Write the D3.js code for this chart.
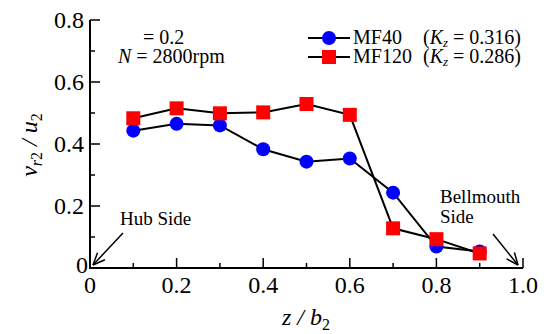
<!DOCTYPE html>
<html><head><meta charset="utf-8">
<script src="https://cdn.jsdelivr.net/npm/d3@7"></script>
<style>body{margin:0;background:#fff}svg{display:block}</style>
</head><body><svg id="c" width="547" height="334" font-family="'Liberation Serif', 'Times New Roman', Times, serif"></svg>
<script>
const zPos = [0.1,0.2,0.3,0.4,0.5,0.6,0.7,0.8,0.9];
const mf40 = [0.443,0.465,0.460,0.383,0.343,0.353,0.243,0.069,0.053];
const mf120 = [0.483,0.515,0.499,0.502,0.529,0.494,0.128,0.093,0.047];
const xTicks = [0,0.2,0.4,0.6,0.8,1.0];
const xTickLabels = ["0","0.2","0.4","0.6","0.8","1.0"];
const yTicks = [0,0.2,0.4,0.6,0.8];
const yTickLabels = ["0","0.2","0.4","0.6","0.8"];
const seriesNames = ["MF40","MF120"];
const kz = ["0.316","0.286"];

const FONT = "'Liberation Serif', 'Times New Roman', Times, serif";
const svg = d3.select("#c");
const x = d3.scaleLinear().domain([0,1]).range([90,523]);
const y = d3.scaleLinear().domain([0,0.8]).range([268,20]);

function txt(g){ return g.append("text").attr("font-family",FONT); }

// axes
const xAxis = svg.append("g").attr("transform","translate(0,268)");
xAxis.append("line").attr("x1",x(0)-1).attr("x2",x(1)).attr("y1",0).attr("y2",0).attr("stroke","#000").attr("stroke-width",2);
d3.range(0,1.0001,0.1).forEach(v=>{
  const major = Math.abs(v*5-Math.round(v*5))<1e-6;
  xAxis.append("line").attr("x1",x(v)).attr("x2",x(v)).attr("y1",0).attr("y2",major?-10:-5).attr("stroke","#000").attr("stroke-width",1.5);
});
xTicks.forEach((v,i)=>{
  txt(xAxis).attr("x",x(v)).attr("y",25).attr("text-anchor","middle").attr("font-size",24).text(xTickLabels[i]);
});
const yAxis = svg.append("g").attr("transform","translate(90,0)");
yAxis.append("line").attr("x1",0).attr("x2",0).attr("y1",y(0)+1).attr("y2",y(0.8)).attr("stroke","#000").attr("stroke-width",2);
d3.range(0,0.8001,0.1).forEach(v=>{
  const major = Math.abs(v*5-Math.round(v*5))<1e-6;
  yAxis.append("line").attr("x1",0).attr("x2",major?10:5).attr("y1",y(v)).attr("y2",y(v)).attr("stroke","#000").attr("stroke-width",1.5);
});
yTicks.forEach((v,i)=>{
  txt(yAxis).attr("x",v===0 ? -2 : -6).attr("y",v===0 ? y(v)+5 : y(v)+8).attr("text-anchor","end").attr("font-size",24).text(yTickLabels[i]);
});

// axis titles
const xt = txt(svg).attr("x",306).attr("y",325).attr("text-anchor","middle").attr("font-size",24).attr("font-style","italic");
xt.append("tspan").text("z / b");
xt.append("tspan").attr("font-size",16).attr("dy",5).attr("font-style","normal").text("2");
const yt = txt(svg).attr("transform","translate(37,145) rotate(-90)").attr("text-anchor","middle").attr("font-size",24).attr("font-style","italic");
yt.append("tspan").text("v");
yt.append("tspan").attr("font-size",16).attr("dy",5).text("r");
yt.append("tspan").attr("font-size",16).attr("font-style","normal").text("2");
yt.append("tspan").attr("dy",-5).text(" / u");
yt.append("tspan").attr("font-size",16).attr("dy",5).attr("font-style","normal").text("2");

// lines
const line = d3.line().x((d,i)=>x(zPos[i])).y(d=>y(d));
svg.append("path").datum(mf40).attr("d",line).attr("fill","none").attr("stroke","#000").attr("stroke-width",2);
svg.append("path").datum(mf120).attr("d",line).attr("fill","none").attr("stroke","#000").attr("stroke-width",2);
svg.selectAll("circle.m40").data(mf40).enter().append("circle").attr("cx",(d,i)=>x(zPos[i])).attr("cy",d=>y(d)).attr("r",7).attr("fill","#0000ff");
svg.selectAll("rect.m120").data(mf120).enter().append("rect").attr("x",(d,i)=>x(zPos[i])-7).attr("y",d=>y(d)-7).attr("width",14).attr("height",14).attr("fill","#ff0000");

// legend
const lg = svg.append("g");
[0,1].forEach(i=>{
  const yy = 38 + i*19;
  lg.append("line").attr("x1",308).attr("x2",350).attr("y1",yy).attr("y2",yy).attr("stroke","#000").attr("stroke-width",2);
  if(i===0) lg.append("circle").attr("cx",329).attr("cy",yy).attr("r",7).attr("fill","#0000ff");
  else lg.append("rect").attr("x",322).attr("y",yy-7).attr("width",14).attr("height",14).attr("fill","#ff0000");
  txt(lg).attr("x",353).attr("y",yy+6).attr("font-size",20).text(seriesNames[i]);
  const t = txt(lg).attr("x",423).attr("y",yy+6).attr("font-size",20);
  t.append("tspan").text("(");
  t.append("tspan").attr("font-style","italic").text("K");
  t.append("tspan").attr("font-style","italic").attr("font-size",13).attr("dy",3).text("z");
  t.append("tspan").attr("dy",-3).text(" = " + kz[i] + ")");
});

// annotation
txt(svg).attr("x",143).attr("y",44).attr("font-size",20).text("= 0.2");
const nt = txt(svg).attr("x",118).attr("y",63).attr("font-size",20);
nt.append("tspan").attr("font-style","italic").text("N");
nt.append("tspan").text(" = 2800rpm");

// side labels
txt(svg).attr("x",120).attr("y",225).attr("font-size",19).text("Hub Side");
txt(svg).attr("x",440).attr("y",203).attr("font-size",19).text("Bellmouth");
txt(svg).attr("x",440).attr("y",223).attr("font-size",19).text("Side");

function arrow(x1,y1,x2,y2){
  svg.append("line").attr("x1",x1).attr("y1",y1).attr("x2",x2).attr("y2",y2).attr("stroke","#000").attr("stroke-width",1.5);
  const a = Math.atan2(y2-y1,x2-x1), L=13, s=0.4;
  [a+Math.PI-s, a+Math.PI+s].forEach(b=>{
    svg.append("line").attr("x1",x2).attr("y1",y2).attr("x2",x2+L*Math.cos(b)).attr("y2",y2+L*Math.sin(b)).attr("stroke","#000").attr("stroke-width",1.5);
  });
}
arrow(123,233,93,265);
arrow(493,234,518,265);
</script></body></html>
